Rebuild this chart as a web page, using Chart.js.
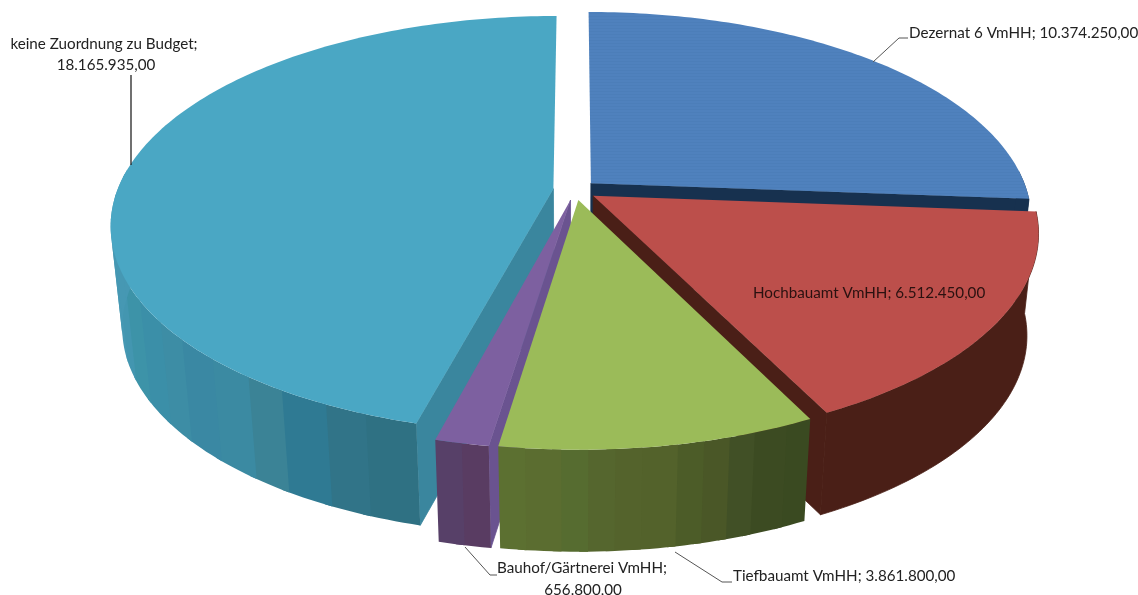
<!DOCTYPE html>
<html><head><meta charset="utf-8">
<style>html,body{margin:0;padding:0;background:#fff}canvas{display:block}</style>
<script src="https://cdn.jsdelivr.net/npm/chart.js@4/dist/chart.umd.js"></script>
</head><body><canvas id="c" width="1138" height="595"></canvas>
<script>
const categories = ["Dezernat 6 VmHH","Hochbauamt VmHH","Tiefbauamt VmHH","Bauhof/Gärtnerei VmHH","keine Zuordnung zu Budget"];
const values = [10374250,6512450,3861800,656800,18165935];
const topColors = ["#4f81bd","#bc4f4b","#9bbb59","#7d60a0","#4aa7c4"];
const cutColors = ["#17314f","#4a1f17","#3a4a21","#6a5390","#3a869e"];
const wallBands = [
  ["#17314f"],
  ["#4a1f17"],
  ["#3a4a21","#3c4b22","#415026","#4a5727","#4c5c28","#53622b","#54632c","#55662e","#566c30","#5b6d30","#5c7031"],
  ["#593c62","#574068"],
  ["#2f7183","#317488","#2f7a93","#3b8396","#3b8aa2","#3a88a3","#3d8da5","#3b8fa8","#3d93a8","#4396b0","#4698b3","#4698b3","#4698b3","#4698b3","#4698b3"]
];
const wallSpanDeg = [94,59,35,6,84];
const drawOrder = [0,4,1,3,2];
const startCutVisible = [3,4];
const endCutVisible = [0,1];

const G = {cx:575, cy:190, a:436, b:202.8, p:-0.172, explode:0.05, depth:102, bottomScale:0.975};

function project(u,v){
  const d = 1 + G.p*v;
  return [G.cx + G.a*u/d, G.cy + G.b*v/d];
}
function lower(pt){
  return [G.cx + (pt[0]-G.cx)*G.bottomScale, pt[1] + G.depth];
}
function poly(ctx,pts,fill,seal){
  ctx.beginPath();
  pts.forEach((p,i)=> i ? ctx.lineTo(p[0],p[1]) : ctx.moveTo(p[0],p[1]));
  ctx.closePath();
  ctx.fillStyle = fill; ctx.fill();
  if(seal){ ctx.strokeStyle = fill; ctx.lineWidth = 0.8; ctx.stroke(); }
}
function drawSlice(ctx,arc,i){
  const s = arc.startAngle, e = arc.endAngle, mid = (s+e)/2;
  const ox = G.explode*Math.cos(mid), oy = G.explode*Math.sin(mid);
  const at = t => project(ox+Math.cos(t), oy+Math.sin(t));
  const apex = project(ox,oy);
  const n = Math.max(4, Math.ceil((e-s)/(Math.PI/180)));
  const rim = [], rimAngle = [];
  for(let k=0;k<=n;k++){ rimAngle.push(s+(e-s)*k/n); rim.push(at(rimAngle[k])); }
  // cut faces that can be seen from the viewer
  if(startCutVisible.includes(i)) poly(ctx,[apex,rim[0],lower(rim[0]),lower(apex)],cutColors[i],true);
  if(endCutVisible.includes(i)) poly(ctx,[apex,rim[n],lower(rim[n]),lower(apex)],cutColors[i],true);
  // outer wall, merged per shading band; only the front-facing part
  const bands = wallBands[i], span = wallSpanDeg[i]*Math.PI/180;
  const bandOf = k => Math.min(bands.length-1,Math.floor((rimAngle[k]+ (e-s)/(2*n) - s)/span*bands.length));
  let k = 0;
  const visible = k => Math.sin(rimAngle[k]) > -0.06 || Math.sin(rimAngle[k+1]) > -0.06;
  while(k<n){
    if(!visible(k)){k++;continue;}
    const b = bandOf(k);
    let m = k;
    while(m<n && visible(m) && bandOf(m)===b) m++;
    const seg = rim.slice(k,Math.min(n,m+1)+1);     // one extra sample overlaps the next band
    poly(ctx,seg.concat(seg.map(lower).reverse()),bands[b],i===1);
    k = m;
  }
  // top face
  const top = [apex].concat(rim);
  poly(ctx,top,topColors[i]);
  if(i===0){
    ctx.save();
    ctx.beginPath();
    top.forEach((p,j)=> j ? ctx.lineTo(p[0],p[1]) : ctx.moveTo(p[0],p[1]));
    ctx.closePath(); ctx.clip();
    ctx.strokeStyle = "rgba(40,80,140,0.06)"; ctx.lineWidth = 1;
    for(let y=10;y<210;y+=3){ctx.beginPath();ctx.moveTo(580,y+.5);ctx.lineTo(1040,y+.5);ctx.stroke();}
    ctx.restore();
  }
}
const fmt = v => v.toLocaleString("de-DE",{minimumFractionDigits:2,maximumFractionDigits:2});
const labelSpecs = [
  {lines:i=>[categories[i]+"; "+fmt(values[i])], x:[909], y:[33], align:"left", leader:[[873,62],[899,38],[908,38]]},
  {lines:i=>[categories[i]+"; "+fmt(values[i])], x:[753], y:[293], align:"left", leader:null},
  {lines:i=>[categories[i]+"; "+fmt(values[i])], x:[733], y:[576], align:"left", leader:[[675,552],[722,582],[732,582]]},
  {lines:i=>[categories[i]+";",fmt(values[i])], x:[497,583], y:[568,590], align:"mixed", leader:[[465,547],[490,575],[497,575]]},
  {lines:i=>[categories[i]+";",fmt(values[i])], x:[104,106], y:[44,65], align:"center", leader:[[131,165],[131,75]]}
];
const pie3d = {
  id:"pie3d",
  beforeDatasetDraw(chart,args){
    const ctx = chart.ctx, arcs = chart.getDatasetMeta(args.index).data;
    ctx.save();
    drawOrder.forEach(i=>drawSlice(ctx,arcs[i],i));
    ctx.restore();
    return false;
  },
  afterDatasetsDraw(chart){
    const ctx = chart.ctx;
    ctx.save();
    ctx.font = '15.2px Lato, "Open Sans", sans-serif';
    ctx.textBaseline = "middle";
    labelSpecs.forEach((sp,i)=>{
      if(sp.leader){
        ctx.strokeStyle = i===4 ? "#111" : "#555"; ctx.lineWidth = i===4 ? 1.2 : 1;
        ctx.beginPath();
        sp.leader.forEach((p,j)=> j ? ctx.lineTo(p[0],p[1]) : ctx.moveTo(p[0],p[1]));
        ctx.stroke();
      }
      ctx.fillStyle = i===1 ? "#2a1110" : "#222";
      sp.lines(i).forEach((t,j)=>{
        ctx.textAlign = sp.align==="left" ? "left" : sp.align==="center" ? "center" : (j===0 ? "left" : "center");
        ctx.fillText(t, sp.x[j], sp.y[j]);
      });
    });
    ctx.restore();
  }
};
new Chart(document.getElementById("c"),{
  type:"pie",
  data:{labels:categories,datasets:[{data:values,backgroundColor:topColors,borderWidth:0}]},
  options:{responsive:false,animation:false,plugins:{legend:{display:false},tooltip:{enabled:false}}},
  plugins:[pie3d]
});
</script></body></html>
